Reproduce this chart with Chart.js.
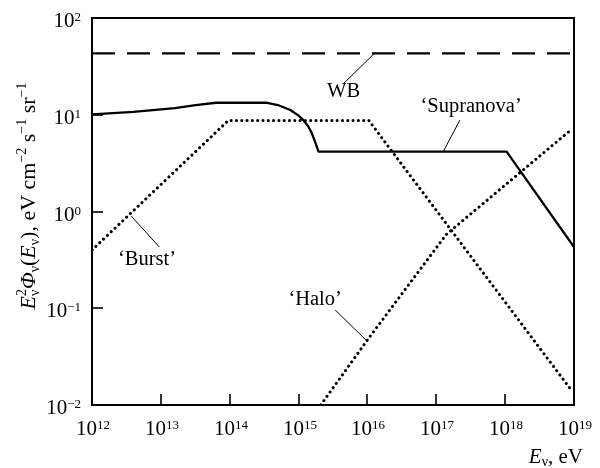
<!DOCTYPE html>
<html>
<head>
<meta charset="utf-8">
<script src="https://cdn.jsdelivr.net/npm/chart.js@4.4.1/dist/chart.umd.min.js"></script>
<style>
html,body{margin:0;padding:0;background:#fff;}
#wrap{width:600px;height:468px;}
</style>
</head>
<body>
<div id="wrap"><canvas id="c" width="600" height="468"></canvas></div>
<script>
// ---- data ----
const energyTicks = [1e12, 1e13, 1e14, 1e15, 1e16, 1e17, 1e18, 1e19];
const fluxTicks = [1e-2, 1e-1, 1e0, 1e1, 1e2];

const wbEnergy = [1e12, 1e19];
const wbFlux = [43, 43];

const supranovaEnergy = [1e12, 4e12, 1.6e13, 3.2e13, 6.3e13, 3.5e14, 5e14, 7.6e14, 1e15, 1.17e15, 1.38e15, 1.55e15, 1.78e15, 1.95e15, 1.05e18, 1e19];
const supranovaFlux   = [10.1, 10.7, 11.7, 12.6, 13.3, 13.3, 12.6, 11.2, 9.8, 8.8, 7.6, 6.5, 5.0, 4.15, 4.15, 0.43];

const burstEnergy = [1e12, 9.5e13, 1.05e16, 9.3e18];
const burstFlux   = [0.40, 8.7, 8.7, 0.014];

const haloEnergy = [2.1e15, 1e16, 1.4e17, 9.3e18];
const haloFlux   = [0.01, 0.047, 0.58, 7.1];

const labels = [
  {text: "WB", x: 4.5e15, y: 17.3, fromX: 4.5e15, fromY: 21, toX: 1.26e16, toY: 43},
  {text: "\u2018Supranova\u2019", x: 3.2e17, y: 12.2, fromX: 2.2e17, fromY: 8.8, toX: 1.26e17, toY: 4.15},
  {text: "\u2018Burst\u2019", x: 6.3e12, y: 0.32, fromX: 9.5e12, fromY: 0.43, toX: 3.7e12, toY: 0.9},
  {text: "\u2018Halo\u2019", x: 1.74e15, y: 0.122, fromX: 3.4e15, fromY: 0.096, toX: 9.8e15, toY: 0.046}
];

function pts(xs, ys) { return xs.map((x, i) => ({x: x, y: ys[i]})); }

const SERIF = '"Liberation Serif", "DejaVu Serif", serif';

function drawPow(ctx, exp, x, y, align, size, supSize) {
  ctx.font = size + 'px ' + SERIF;
  const wb = ctx.measureText('10').width;
  ctx.font = supSize + 'px ' + SERIF;
  const es = exp < 0 ? '\u2212' + Math.abs(exp) : String(exp);
  const we = ctx.measureText(es).width;
  const total = wb + we;
  let x0 = align === 'center' ? x - total / 2 : (align === 'right' ? x - total : x);
  ctx.textAlign = 'left';
  ctx.textBaseline = 'alphabetic';
  ctx.font = size + 'px ' + SERIF;
  ctx.fillText('10', x0, y);
  ctx.font = supSize + 'px ' + SERIF;
  ctx.fillText(es, x0 + wb, y - 6);
}

function richWidth(ctx, segs) {
  let w = 0;
  segs.forEach(s => {
    ctx.font = (s.it ? 'italic ' : '') + s.size + 'px ' + SERIF;
    if (s.stack) {
      w += Math.max(...s.stack.map(t => ctx.measureText(t).width));
    } else w += ctx.measureText(s.t).width;
  });
  return w;
}
function drawRich(ctx, segs, x, y) {
  let cx = x;
  ctx.textAlign = 'left';
  ctx.textBaseline = 'alphabetic';
  segs.forEach(s => {
    ctx.font = (s.it ? 'italic ' : '') + s.size + 'px ' + SERIF;
    if (s.stack) {
      ctx.fillText(s.stack[0], cx, y - 9);
      ctx.fillText(s.stack[1], cx, y + 4);
      cx += Math.max(...s.stack.map(t => ctx.measureText(t).width));
    } else {
      ctx.fillText(s.t, cx, y + (s.dy || 0));
      cx += ctx.measureText(s.t).width;
    }
  });
}

const yTitle = [
  {t: 'E', it: true, size: 22},
  {stack: ['2', '\u03bd'], size: 14},
  {t: '\u03a6', it: true, size: 22},
  {t: '\u03bd', size: 14, dy: 4},
  {t: '(', size: 22},
  {t: 'E', it: true, size: 22},
  {t: '\u03bd', size: 14, dy: 4},
  {t: '), eV cm', size: 22},
  {t: '\u22122', size: 14, dy: -9},
  {t: ' s', size: 22},
  {t: '\u22121', size: 14, dy: -9},
  {t: ' sr', size: 22},
  {t: '\u22121', size: 14, dy: -9}
];
const xTitle = [
  {t: 'E', it: true, size: 21},
  {t: '\u03bd', size: 14, dy: 3},
  {t: ', eV', size: 21}
];

const decor = {
  id: 'decor',
  afterDraw(chart) {
    const ctx = chart.ctx;
    const a = chart.chartArea;
    const xs = chart.scales.x, ys = chart.scales.y;
    ctx.save();
    ctx.fillStyle = '#000';
    ctx.strokeStyle = '#000';
    // frame
    ctx.lineWidth = 2;
    ctx.strokeRect(a.left, a.top, a.right - a.left, a.bottom - a.top);
    // inward ticks
    ctx.lineWidth = 1.6;
    energyTicks.forEach(v => {
      const px = Math.round(xs.getPixelForValue(v));
      ctx.beginPath(); ctx.moveTo(px, a.bottom); ctx.lineTo(px, a.bottom - 11); ctx.stroke();
      drawPow(ctx, Math.round(Math.log10(v)), px + 1, a.bottom + 30, 'center', 21, 13);
    });
    fluxTicks.forEach(v => {
      const py = Math.round(ys.getPixelForValue(v));
      ctx.beginPath(); ctx.moveTo(a.left, py); ctx.lineTo(a.left + 11, py); ctx.stroke();
      drawPow(ctx, Math.round(Math.log10(v)), a.left - 11, py + 9, 'right', 21, 13);
    });
    // annotations
    ctx.lineWidth = 1;
    labels.forEach(l => {
      ctx.beginPath();
      ctx.moveTo(xs.getPixelForValue(l.fromX), ys.getPixelForValue(l.fromY));
      ctx.lineTo(xs.getPixelForValue(l.toX), ys.getPixelForValue(l.toY));
      ctx.stroke();
      ctx.font = '20.5px ' + SERIF;
      ctx.textAlign = 'center';
      ctx.textBaseline = 'middle';
      ctx.fillText(l.text, xs.getPixelForValue(l.x), ys.getPixelForValue(l.y));
    });
    // x title
    const wx = richWidth(ctx, xTitle);
    drawRich(ctx, xTitle, 583 - wx, 463);
    // y title
    const wy = richWidth(ctx, yTitle);
    ctx.translate(35, 196);
    ctx.rotate(-Math.PI / 2);
    drawRich(ctx, yTitle, -wy / 2, 0);
    ctx.restore();
  }
};

const dotted = {borderColor: '#000', borderWidth: 3, borderDash: [0.1, 5.2], borderCapStyle: 'round', pointRadius: 0, tension: 0, fill: false};

new Chart(document.getElementById('c'), {
  type: 'line',
  data: {
    datasets: [
      {label: 'WB', data: pts(wbEnergy, wbFlux), borderColor: '#000', borderWidth: 2.2, borderDash: [23, 12], pointRadius: 0, tension: 0},
      {label: 'Supranova', data: pts(supranovaEnergy, supranovaFlux), borderColor: '#000', borderWidth: 2.3, pointRadius: 0, tension: 0, borderJoinStyle: 'round'},
      Object.assign({label: 'Burst', data: pts(burstEnergy, burstFlux)}, dotted),
      Object.assign({label: 'Halo', data: pts(haloEnergy, haloFlux)}, dotted)
    ]
  },
  options: {
    responsive: false,
    animation: false,
    devicePixelRatio: 1,
    layout: {padding: {left: 92, right: 26, top: 18, bottom: 63}},
    plugins: {legend: {display: false}, tooltip: {enabled: false}, title: {display: false}},
    scales: {
      x: {type: 'logarithmic', min: 1e12, max: 1e19, display: false},
      y: {type: 'logarithmic', min: 1e-2, max: 1e2, display: false}
    }
  },
  plugins: [decor]
});
</script>
</body>
</html>
